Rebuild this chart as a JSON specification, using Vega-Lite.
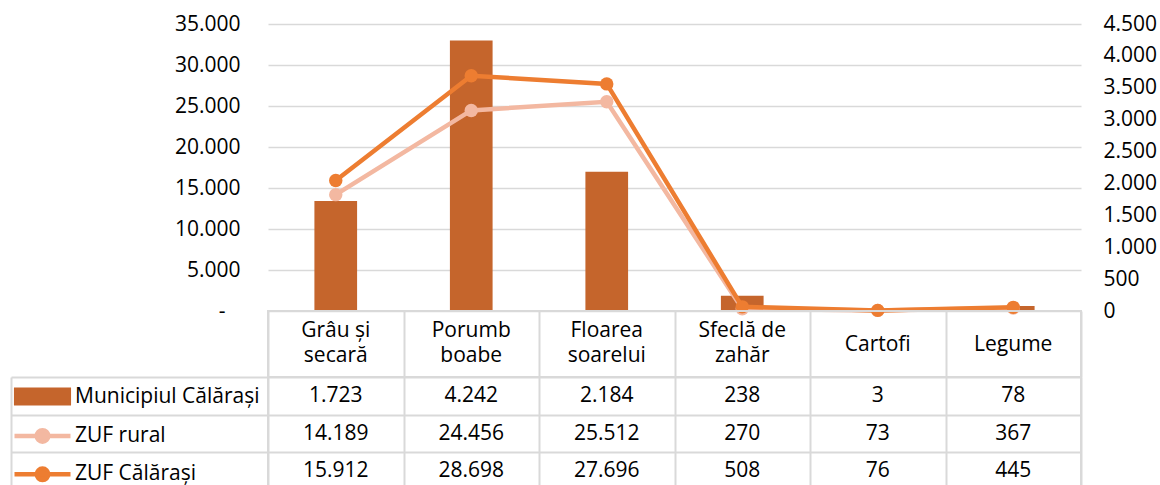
{
  "$schema": "https://vega.github.io/schema/vega-lite/v6.json",
  "padding": {"left": 9, "top": 13, "right": 5, "bottom": 0},
  "background": "white",
  "bounds": "flush",
  "spacing": 0,
  "config": {
    "locale": {"number": {"decimal": ",", "thousands": ".", "grouping": [3], "currency": ["", ""]}},
    "font": "Open Sans",
    "axis": {"labelFont": "Open Sans", "labelFontSize": 21, "labelColor": "#000000", "title": null},
    "legend": {"labelFont": "Open Sans", "labelFontSize": 21, "labelColor": "#000000"}
  },
  "data": {
    "values": [
      {"Cultura": "Grâu și\nsecară", "Serie": "Municipiul Călărași", "Valoare": 1723},
      {"Cultura": "Porumb\nboabe", "Serie": "Municipiul Călărași", "Valoare": 4242},
      {"Cultura": "Floarea\nsoarelui", "Serie": "Municipiul Călărași", "Valoare": 2184},
      {"Cultura": "Sfeclă de\nzahăr", "Serie": "Municipiul Călărași", "Valoare": 238},
      {"Cultura": "Cartofi", "Serie": "Municipiul Călărași", "Valoare": 3},
      {"Cultura": "Legume", "Serie": "Municipiul Călărași", "Valoare": 78},
      {"Cultura": "Grâu și\nsecară", "Serie": "ZUF rural", "Valoare": 14189},
      {"Cultura": "Porumb\nboabe", "Serie": "ZUF rural", "Valoare": 24456},
      {"Cultura": "Floarea\nsoarelui", "Serie": "ZUF rural", "Valoare": 25512},
      {"Cultura": "Sfeclă de\nzahăr", "Serie": "ZUF rural", "Valoare": 270},
      {"Cultura": "Cartofi", "Serie": "ZUF rural", "Valoare": 73},
      {"Cultura": "Legume", "Serie": "ZUF rural", "Valoare": 367},
      {"Cultura": "Grâu și\nsecară", "Serie": "ZUF Călărași", "Valoare": 15912},
      {"Cultura": "Porumb\nboabe", "Serie": "ZUF Călărași", "Valoare": 28698},
      {"Cultura": "Floarea\nsoarelui", "Serie": "ZUF Călărași", "Valoare": 27696},
      {"Cultura": "Sfeclă de\nzahăr", "Serie": "ZUF Călărași", "Valoare": 508},
      {"Cultura": "Cartofi", "Serie": "ZUF Călărași", "Valoare": 76},
      {"Cultura": "Legume", "Serie": "ZUF Călărași", "Valoare": 445}
    ]
  },
  "resolve": {"legend": {"color": "independent"}},
  "vconcat": [
    {
      "width": 813,
      "height": 287,
      "view": {"stroke": null},
      "encoding": {
        "x": {
          "field": "Cultura", "type": "nominal",
          "scale": {"domain": ["Grâu și\nsecară", "Porumb\nboabe", "Floarea\nsoarelui", "Sfeclă de\nzahăr", "Cartofi", "Legume"], "paddingInner": 0, "paddingOuter": 0},
          "axis": null
        },
        "color": {
          "field": "Serie", "type": "nominal",
          "scale": {"domain": ["Municipiul Călărași", "ZUF rural", "ZUF Călărași"], "range": ["#C5652C", "#F3B8A1", "#ED7D31"]},
          "legend": {
            "orient": "none", "legendX": -238, "legendY": 360, "direction": "vertical",
            "title": null, "padding": 0, "rowPadding": 7.4, "symbolSize": 400, "symbolStrokeWidth": 4.5,
            "symbolOffset": 0, "labelOffset": 20, "labelLimit": 400,
            "encode": {
              "symbols": {
                "update": {
                  "shape": {"signal": "datum.value === 'Municipiul Călărași' ? 'M-2.63,-0.665H2.63V0.665H-2.63Z' : 'M-2.8,0H2.8M0.575,0A0.575,0.575,0,1,1,-0.575,0A0.575,0.575,0,1,1,0.575,0'"},
                  "fill": {"signal": "datum.value === 'Municipiul Călărași' ? '#C5652C' : datum.value === 'ZUF rural' ? '#F3B8A1' : '#ED7D31'"},
                  "stroke": {"signal": "datum.value === 'Municipiul Călărași' ? 'transparent' : datum.value === 'ZUF rural' ? '#F3B8A1' : '#ED7D31'"},
                  "strokeWidth": {"value": 4.5},
                  "opacity": {"value": 1}
                }
              }
            }
          }
        }
      },
      "layer": [
        {
          "transform": [{"filter": "datum.Serie === 'Municipiul Călărași'"}],
          "mark": {"type": "bar", "width": {"band": 0.315}},
          "encoding": {
            "y": {
              "field": "Valoare", "type": "quantitative",
              "scale": {"domain": [0, 4500], "nice": false},
              "axis": {"orient": "right", "title": null, "values": [0, 500, 1000, 1500, 2000, 2500, 3000, 3500, 4000, 4500], "format": ",.0f", "domain": false, "ticks": false, "grid": false, "labelPadding": 22}
            }
          }
        },
        {
          "layer": [
            {
              "transform": [{"filter": "datum.Serie === 'ZUF rural'"}],
              "mark": {"type": "line", "strokeWidth": 4.5, "point": {"filled": true, "size": 180}},
              "encoding": {
                "y": {
                  "field": "Valoare", "type": "quantitative",
                  "scale": {"domain": [0, 35000], "nice": false},
                  "axis": {"orient": "left", "title": null, "values": [0, 5000, 10000, 15000, 20000, 25000, 30000, 35000], "format": ",.0f", "labelExpr": "datum.value === 0 ? '-\u2800' : datum.label", "domain": false, "ticks": false, "labelPadding": 28, "grid": true, "gridColor": "#D9D9D9", "gridWidth": 1.5}
                }
              }
            },
            {
              "transform": [{"filter": "datum.Serie === 'ZUF Călărași'"}],
              "mark": {"type": "line", "strokeWidth": 4.5, "point": {"filled": true, "size": 180}},
              "encoding": {
                "y": {"field": "Valoare", "type": "quantitative"}
              }
            }
          ]
        }
      ],
      "resolve": {"scale": {"y": "independent"}}
    },
    {
      "width": 813,
      "height": 66,
      "view": {"stroke": "#D9D9D9", "strokeWidth": 2},
      "encoding": {
        "x": {
          "field": "Cultura", "type": "nominal",
          "scale": {"domain": ["Grâu și\nsecară", "Porumb\nboabe", "Floarea\nsoarelui", "Sfeclă de\nzahăr", "Cartofi", "Legume"], "paddingInner": 0, "paddingOuter": 0},
          "axis": {"title": null, "labels": false, "ticks": false, "domain": false, "grid": true, "tickBand": "extent", "gridColor": "#D9D9D9", "gridWidth": 2}
        },
        "text": {"field": "Cultura", "type": "nominal"}
      },
      "layer": [
        {
          "transform": [{"filter": "datum.Serie === 'Municipiul Călărași' && indexof(datum.Cultura, '\\n') >= 0"}],
          "mark": {"type": "text", "font": "Open Sans", "fontSize": 21, "color": "#000000", "baseline": "alphabetic", "lineBreak": "\n", "lineHeight": 25, "dy": -7}
        },
        {
          "transform": [{"filter": "datum.Serie === 'Municipiul Călărași' && indexof(datum.Cultura, '\\n') < 0"}],
          "mark": {"type": "text", "font": "Open Sans", "fontSize": 21, "color": "#000000", "baseline": "alphabetic", "dy": 7}
        }
      ]
    },
    {
      "width": 813,
      "height": 113,
      "view": {"stroke": "#D9D9D9", "strokeWidth": 2},
      "layer": [
        {
          "mark": {"type": "text", "font": "Open Sans", "fontSize": 21, "color": "#000000"},
          "encoding": {
            "x": {
              "field": "Cultura", "type": "nominal",
              "scale": {"domain": ["Grâu și\nsecară", "Porumb\nboabe", "Floarea\nsoarelui", "Sfeclă de\nzahăr", "Cartofi", "Legume"], "paddingInner": 0, "paddingOuter": 0},
              "axis": {"title": null, "labels": false, "ticks": false, "domain": false, "grid": true, "tickBand": "extent", "gridColor": "#D9D9D9", "gridWidth": 2}
            },
            "y": {
              "field": "Serie", "type": "nominal",
              "scale": {"domain": ["Municipiul Călărași", "ZUF rural", "ZUF Călărași"], "paddingInner": 0, "paddingOuter": 0},
              "axis": {"orient": "left", "title": null, "labels": false, "ticks": true, "tickSize": 257, "tickBand": "extent", "tickColor": "#D9D9D9", "tickWidth": 2, "domain": false, "grid": true, "gridColor": "#D9D9D9", "gridWidth": 2}
            },
            "text": {"field": "Valoare", "type": "quantitative", "format": ",.0f"}
          }
        },
        {
          "mark": {"type": "point", "opacity": 0},
          "encoding": {
            "y": {
              "field": "Serie", "type": "nominal",
              "scale": {"domain": ["Municipiul Călărași", "ZUF rural", "ZUF Călărași"], "paddingInner": 0, "paddingOuter": 0},
              "axis": {"orient": "left", "offset": 257, "title": null, "labels": false, "ticks": false, "grid": false, "domain": true, "domainColor": "#D9D9D9", "domainWidth": 2}
            }
          }
        }
      ],
      "resolve": {"scale": {"y": "independent"}}
    }
  ]
}
